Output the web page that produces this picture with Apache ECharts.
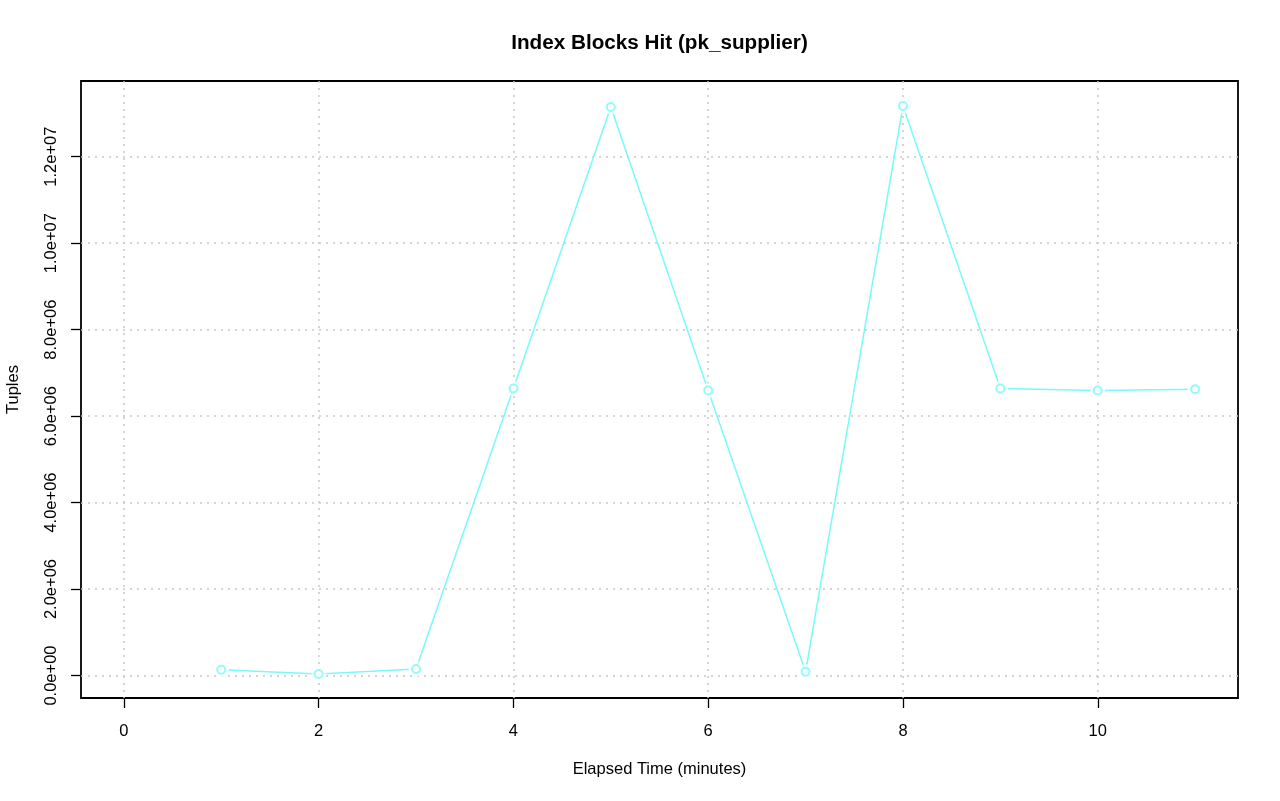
<!DOCTYPE html>
<html>
<head>
<meta charset="utf-8">
<script src="https://cdn.jsdelivr.net/npm/echarts@6/dist/echarts.min.js"></script>
<style>html,body{margin:0;padding:0;background:#fff}#c{width:1280px;height:801px}</style>
</head>
<body>
<div id="c"></div>
<script>
const elapsedMinutes = [1, 2, 3, 4, 5, 6, 7, 8, 9, 10, 11];
const tuples = [134000, 35000, 150000, 6640000, 13150000, 6590000, 88000, 13170000, 6640000, 6590000, 6620000];
const xTicks = [0, 2, 4, 6, 8, 10];
const yTicks = [0, 2000000, 4000000, 6000000, 8000000, 10000000, 12000000];
const yTickLabels = ['0.0e+00', '2.0e+06', '4.0e+06', '6.0e+06', '8.0e+06', '1.0e+07', '1.2e+07'];

const pts = elapsedMinutes.map((x, i) => [x, tuples[i]]);
const lineColor = '#79f9f9';
const font = 'Liberation Sans, Arial, Helvetica, sans-serif';
const fs = 16.5;

const chart = echarts.init(document.getElementById('c'), null, {renderer: 'canvas'});
chart.setOption({
  animation: false,
  backgroundColor: '#ffffff',
  graphic: [{
    type: 'text', x: 659.5, y: 43.5,
    style: {text: 'Index Blocks Hit (pk_supplier)', fontFamily: font, fontSize: 20.7, fontWeight: 'bold', fill: '#000', align: 'center', verticalAlign: 'middle'}
  }],
  grid: {left: 81, right: 42, top: 81, bottom: 103, containLabel: false, outerBoundsMode: 'none', show: true, borderColor: '#000', borderWidth: 1.8, backgroundColor: 'transparent'},
  xAxis: {
    type: 'value', min: -0.44, max: 11.44,
    name: 'Elapsed Time (minutes)', nameLocation: 'middle', nameGap: 63,
    nameTextStyle: {fontFamily: font, fontSize: fs, color: '#000'},
    axisLine: {show: false, onZero: false},
    axisTick: {show: true, length: 10, inside: false, customValues: xTicks, lineStyle: {color: '#000', width: 1.3}},
    axisLabel: {customValues: xTicks, margin: 25, fontFamily: font, fontSize: fs, color: '#000'},
    splitLine: {show: true, lineStyle: {color: '#c8c8c8', type: [2, 5], width: 1.5}}
  },
  yAxis: {
    type: 'value', min: -520000, max: 13750000,
    name: 'Tuples', nameLocation: 'middle', nameGap: 59, nameRotate: 90,
    nameTextStyle: {fontFamily: font, fontSize: fs, color: '#000'},
    axisLine: {show: false, onZero: false},
    axisTick: {show: true, length: 10, inside: false, customValues: yTicks, lineStyle: {color: '#000', width: 1.3}},
    axisLabel: {customValues: yTicks, rotate: 90, margin: 21, fontFamily: font, fontSize: fs, color: '#000',
      formatter: v => { const i = yTicks.indexOf(v); return i >= 0 ? yTickLabels[i] : ''; }},
    splitLine: {show: true, lineStyle: {color: '#c8c8c8', type: [2, 5], width: 1.5}}
  },
  series: [
    {type: 'line', data: pts, symbol: 'none', lineStyle: {color: lineColor, width: 1.5}, z: 2, clip: false},
    {type: 'scatter', data: pts, symbol: 'circle', symbolSize: 15, itemStyle: {color: '#ffffff'}, z: 3, silent: true},
    {type: 'scatter', data: pts, symbol: 'emptyCircle', symbolSize: 8, itemStyle: {color: lineColor, borderColor: lineColor, borderWidth: 1.5}, z: 4, silent: true}
  ]
});
</script>
</body>
</html>
